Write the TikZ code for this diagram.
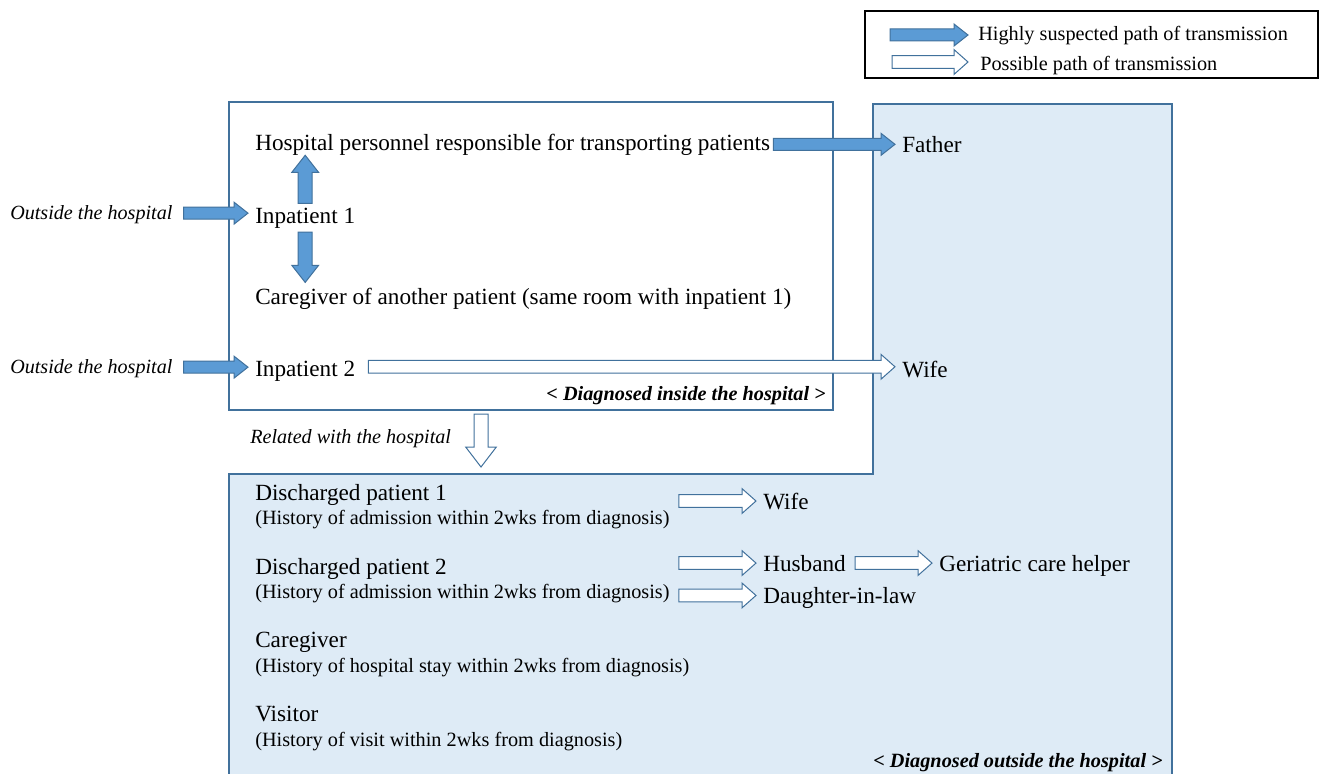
\documentclass[tikz,border=0pt]{standalone}
\usepackage{fontspec}
\setmainfont{Liberation Serif}
\usetikzlibrary{calc}
\definecolor{arrfill}{RGB}{91,155,213}
\definecolor{arredge}{RGB}{65,113,156}
\definecolor{regfill}{RGB}{222,235,246}
\tikzset{
  blk shaft/.store in=\blkS, blk head/.store in=\blkH, blk len/.store in=\blkL,
  blk shaft=4.5pt, blk head=8.25pt, blk len=10.5pt,
  rblock/.style={to path={let \p1=(\tikztostart), \p2=(\tikztotarget) in
    (\x1,\y1-\blkS) -- (\x2-\blkL,\y1-\blkS) -- (\x2-\blkL,\y1-\blkH) -- (\x2,\y1)
    -- (\x2-\blkL,\y1+\blkH) -- (\x2-\blkL,\y1+\blkS) -- (\x1,\y1+\blkS) -- cycle}},
  dblock/.style={to path={let \p1=(\tikztostart), \p2=(\tikztotarget) in
    (\x1-\blkS,\y1) -- (\x1-\blkS,\y2+\blkL) -- (\x1-\blkH,\y2+\blkL) -- (\x1,\y2)
    -- (\x1+\blkH,\y2+\blkL) -- (\x1+\blkS,\y2+\blkL) -- (\x1+\blkS,\y1) -- cycle}},
  ublock/.style={to path={let \p1=(\tikztostart), \p2=(\tikztotarget) in
    (\x1-\blkS,\y1) -- (\x1-\blkS,\y2-\blkL) -- (\x1-\blkH,\y2-\blkL) -- (\x1,\y2)
    -- (\x1+\blkH,\y2-\blkL) -- (\x1+\blkS,\y2-\blkL) -- (\x1+\blkS,\y1) -- cycle}},
  filledarr/.style={fill=arrfill, draw=arredge, line width=0.75pt, line join=miter},
  hollowarr/.style={fill=white, draw=arredge, line width=0.75pt, line join=miter},
  vert/.style={blk shaft=5.25pt, blk head=10pt, blk len=12.75pt},
  hol/.style={blk shaft=4.8pt, blk head=9.3pt, blk len=10.5pt},
  holdown/.style={blk shaft=5.25pt, blk head=11.5pt, blk len=15pt},
  main/.style={font=\fontsize{17.4}{20}\selectfont, inner sep=0pt, anchor=base west},
  small/.style={font=\fontsize{15.2}{18}\selectfont, inner sep=0pt, anchor=base west},
  ital/.style={font=\fontsize{15.1}{18}\selectfont\itshape, inner sep=0pt, anchor=base west},
  tag/.style={font=\fontsize{15.2}{18}\selectfont\bfseries\itshape, inner sep=0pt, anchor=base east},
  boxline/.style={draw=arredge, line width=1.1pt}
}
\begin{document}
\begin{tikzpicture}[x=0.75pt, y=-0.75pt]
\useasboundingbox (0,0) rectangle (1324,774);
% regions
\draw[boxline, fill=regfill] (873,104) -- (1172,104) -- (1172,790) -- (229,790) -- (229,474) -- (873,474) -- cycle;
\draw[boxline, fill=white] (229,102) rectangle (833,410);
\draw[black, line width=1pt] (865,11) rectangle (1318,78);
% legend
\node[small] (leg1) at (978,41) {Highly suspected path of transmission};
\node[small] (leg2) at (980,71) {Possible path of transmission};
\coordinate (l1a) at (890,35);
\coordinate (l2a) at (892,62);
% inside texts
\node[main] (hosp) at (255,150) {Hospital personnel responsible for transporting patients};
\node[main] (inp1) at (255,223) {Inpatient 1};
\node[main] (care) at (255,304) {Caregiver of another patient (same room with inpatient 1)};
\node[main] (inp2) at (255,376) {Inpatient 2};
\node[main] (father) at (902,152) {Father};
\node[main] (wife1) at (902,377) {Wife};
\node[ital] (out1) at (10,219) {Outside the hospital};
\node[ital] (out2) at (10,373) {Outside the hospital};
\node[tag] (diagin) at (826,400) {< Diagnosed inside the hospital >};
\node[ital] (related) at (250,443) {Related with the hospital};
\coordinate (rel1) at (481,414);
\coordinate (rel2) at (481,467);
% outside texts
\node[main] (dp1) at (255,500) {Discharged patient 1};
\node[small] (hist1) at (255,524) {(History of admission within 2wks from diagnosis)};
\node[main] (wife2) at (763,509) {Wife};
\node[main] (dp2) at (255,574) {Discharged patient 2};
\node[small] (hist2) at (255,598) {(History of admission within 2wks from diagnosis)};
\node[main] (husb) at (763,571) {Husband};
\node[main] (gch) at (939,571) {Geriatric care helper};
\node[main] (dil) at (763,603) {Daughter-in-law};
\node[main] (cg2) at (255,647) {Caregiver};
\node[small] (hist3) at (255,672) {(History of hospital stay within 2wks from diagnosis)};
\node[main] (visitor) at (255,721) {Visitor};
\node[small] (hist4) at (255,746) {(History of visit within 2wks from diagnosis)};
\node[tag] (diagout) at (1163,767) {< Diagnosed outside the hospital >};
% arrows
\draw[filledarr, rblock] (l1a) to ($(leg1.west)+(-10,0)$);
\draw[hollowarr, hol, rblock] (l2a) to ($(leg2.west)+(-12,0)$);
\draw[filledarr, rblock] ($(hosp.east)+(3,0)$) to ($(father.west)+(-7,0)$);
\draw[filledarr, vert, ublock] ($(inp1.north)+(0,-4)$) to ($(hosp.south -| inp1.north)+(0,0)$);
\draw[filledarr, vert, dblock] ($(inp1.south)+(0,4)$) to ($(care.north -| inp1.south)+(0,-5)$);
\draw[filledarr, rblock] ($(out1.east)+(11,-1)$) to ($(inp1.west)+(-7,0)$);
\draw[filledarr, rblock] ($(out2.east)+(11,-1)$) to ($(inp2.west)+(-7,0)$);
\draw[hollowarr, hol, rblock] ($(inp2.east)+(13,-4)$) to ($(wife1.west)+(-7,0)$);
\draw[hollowarr, holdown, dblock] (rel1) to (rel2);
\draw[hollowarr, hol, rblock] ($(hist1.east |- wife2.west)+(9,0)$) to ($(wife2.west)+(-7,0)$);
\draw[hollowarr, hol, rblock] ($(hist2.east |- husb.west)+(9,0)$) to ($(husb.west)+(-7,0)$);
\draw[hollowarr, hol, rblock] ($(husb.east)+(9,0)$) to ($(gch.west)+(-7,0)$);
\draw[hollowarr, hol, rblock] ($(hist2.east |- dil.west)+(9,-2)$) to ($(dil.west)+(-7,0)$);
\end{tikzpicture}
\end{document}
